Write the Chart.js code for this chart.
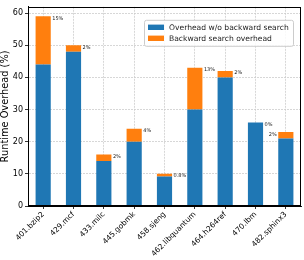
<!DOCTYPE html>
<html>
<head>
<meta charset="utf-8">
<script src="https://cdn.jsdelivr.net/npm/chart.js@4.4.1/dist/chart.umd.min.js"></script>
<style>
  html, body { margin: 0; padding: 0; background: #fff; }
  #wrap { width: 304px; height: 260px; }
</style>
</head>
<body>
<div id="wrap"><canvas id="c"></canvas></div>
<script>
// benchmarks and stacked overhead values (%)
const benchmarks = ['401.bzip2', '429.mcf', '433.milc', '445.gobmk', '458.sjeng',
                    '462.libquantum', '464.h264ref', '470.lbm', '482.sphinx3'];
const baseOverhead   = [44, 48, 14, 20, 9.2, 30, 40, 26, 21];
const searchOverhead = [15, 2, 2, 4, 0.8, 13, 2, 0, 2];
const searchLabels   = ['15%', '2%', '2%', '4%', '0.8%', '13%', '2%', '0%', '2%'];
const yTicks = [0, 10, 20, 30, 40, 50, 60];

const BLUE   = '#1f77b4';
const ORANGE = '#ff7f0e';
const FONT   = "'DejaVu Sans', sans-serif";

// frame on all four sides, like matplotlib spines
const framePlugin = {
  id: 'frame',
  afterDraw(chart) {
    const a = chart.chartArea, ctx = chart.ctx;
    ctx.save();
    ctx.strokeStyle = '#000';
    ctx.lineWidth = 1;
    ctx.strokeRect(Math.round(a.left) + 0.5, Math.round(a.top) + 0.5,
                   Math.round(a.right - a.left) - 1, Math.round(a.bottom - a.top) - 1);
    ctx.restore();
  }
};

// percentage text next to the top of each stack
const topLabels = {
  id: 'topLabels',
  afterDatasetsDraw(chart, args, opts) {
    const ctx = chart.ctx;
    const meta = chart.getDatasetMeta(1);
    ctx.save();
    ctx.font = '5px ' + FONT;
    ctx.fillStyle = '#222';
    ctx.textBaseline = 'middle';
    meta.data.forEach(function (bar, i) {
      const half = bar.width / 2;
      const y = bar.y + 2.2;
      if (opts.leftSide.indexOf(i) >= 0) {
        ctx.textAlign = 'right';
        ctx.fillText(searchLabels[i], bar.x - half - 1.5, y);
      } else {
        ctx.textAlign = 'left';
        ctx.fillText(searchLabels[i], bar.x + half + 1.5, y);
      }
    });
    ctx.restore();
  }
};

// legend boxed inside the plot, upper right
const boxLegend = {
  id: 'boxLegend',
  afterDraw(chart) {
    const a = chart.chartArea, ctx = chart.ctx;
    const w = 149, h = 26;
    const x = a.right - 8 - w, y = a.top + 13;
    ctx.save();
    ctx.fillStyle = 'rgba(255,255,255,0.85)';
    ctx.strokeStyle = '#cccccc';
    ctx.lineWidth = 1;
    ctx.beginPath();
    ctx.roundRect(x + 0.5, y + 0.5, w, h, 2);
    ctx.fill();
    ctx.stroke();
    ctx.font = '7.6px ' + FONT;
    ctx.textBaseline = 'middle';
    ctx.textAlign = 'left';
    chart.data.datasets.forEach(function (d, i) {
      const cy = y + 7.5 + i * 11;
      ctx.fillStyle = d.backgroundColor;
      ctx.fillRect(x + 4, cy - 2.7, 16, 5.4);
      ctx.fillStyle = '#222';
      ctx.fillText(d.label, x + 25, cy + 0.3);
    });
    ctx.restore();
  }
};

new Chart(document.getElementById('c').getContext('2d'), {
  type: 'bar',
  data: {
    labels: benchmarks,
    datasets: [
      {
        label: 'Overhead w/o backward search',
        data: baseOverhead,
        backgroundColor: BLUE,
        borderWidth: 0,
        barPercentage: 0.5,
        categoryPercentage: 1,
      },
      {
        label: 'Backward search overhead',
        data: searchOverhead,
        backgroundColor: ORANGE,
        borderWidth: 0,
        barPercentage: 0.5,
        categoryPercentage: 1,
      },
    ],
  },
  options: {
    responsive: true,
    maintainAspectRatio: false,
    animation: false,
    layout: { padding: { top: 3, right: 3, left: 0, bottom: 0 } },
    plugins: {
      legend: { display: false },
      tooltip: { enabled: false },
      topLabels: { leftSide: [8] },
    },
    scales: {
      x: {
        stacked: true,
        offset: true,
        grid: {
          offset: false,
          color: '#cdcdcd',
          lineWidth: 0.8,
          tickColor: '#000',
          tickLength: 3,
          tickBorderDash: [],
        },
        border: { display: true, color: '#000', width: 1, dash: [2, 1] },
        ticks: {
          color: '#000',
          font: { family: FONT, size: 7.5 },
          minRotation: 45,
          maxRotation: 45,
          autoSkip: false,
          padding: 1,
        },
        afterFit(scale) { scale.height = 54; },
      },
      y: {
        stacked: true,
        min: 0,
        max: 61.95,
        afterBuildTicks(scale) { scale.ticks = yTicks.map(function (v) { return { value: v }; }); },
        grid: {
          color: '#cdcdcd',
          lineWidth: 0.8,
          tickColor: '#000',
          tickLength: 3,
          tickBorderDash: [],
        },
        border: { display: true, color: '#000', width: 1, dash: [2, 1] },
        ticks: {
          color: '#000',
          font: { family: FONT, size: 8 },
          padding: 2,
        },
        title: {
          display: true,
          text: 'Runtime Overhead (%)',
          color: '#000',
          font: { family: FONT, size: 9.8 },
          padding: { top: 0, bottom: 1 },
        },
        afterFit(scale) { scale.width = 28; },
      },
    },
  },
  plugins: [framePlugin, topLabels, boxLegend],
});
</script>
</body>
</html>
